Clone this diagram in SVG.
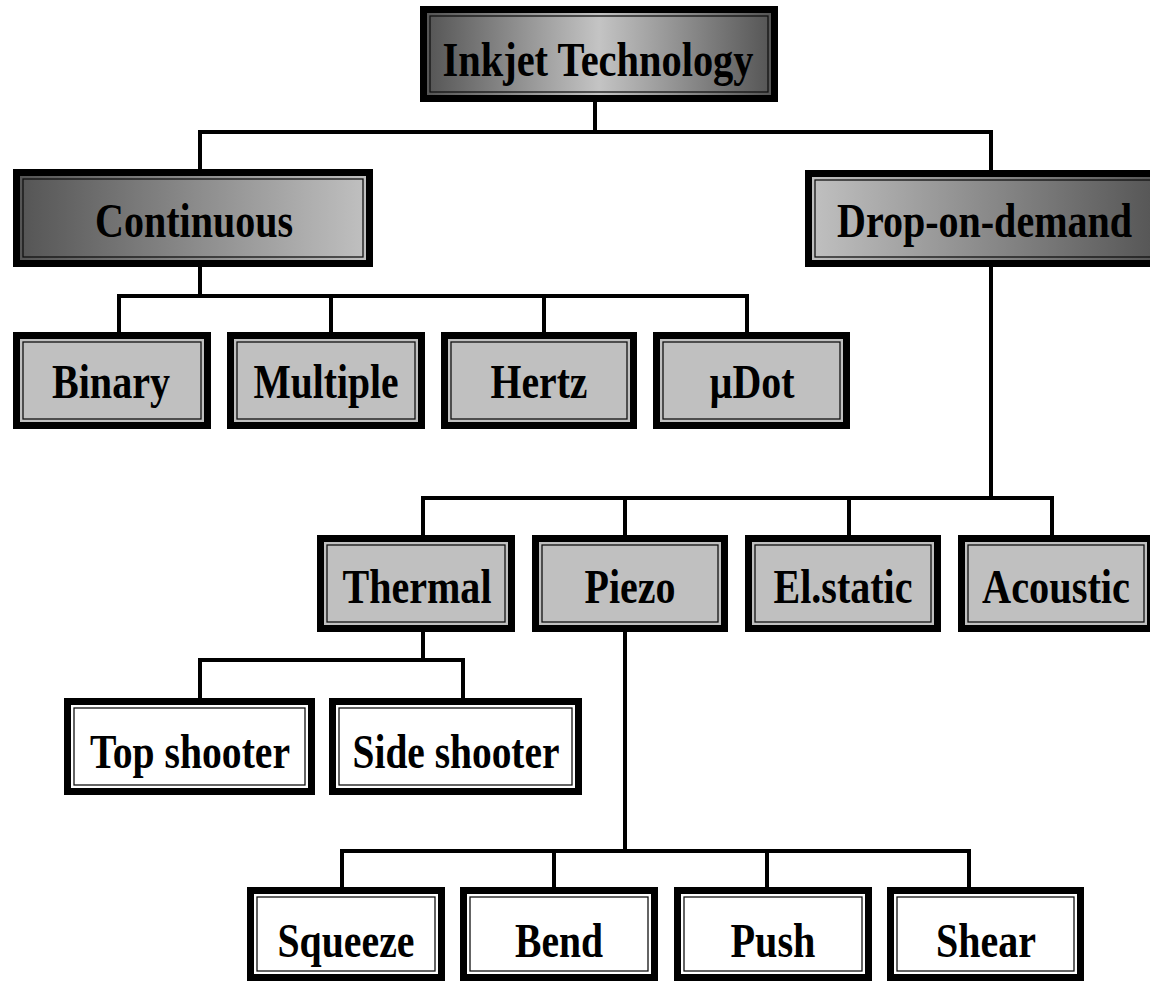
<svg xmlns="http://www.w3.org/2000/svg" width="1150" height="981" viewBox="0 0 1150 981">
<defs>
<linearGradient id="gMid" x1="0" y1="0" x2="1" y2="0">
<stop offset="0" stop-color="#555"/><stop offset="0.5" stop-color="#c4c4c4"/><stop offset="1" stop-color="#555"/>
</linearGradient>
<linearGradient id="gLR" x1="0" y1="0" x2="1" y2="0">
<stop offset="0" stop-color="#555"/><stop offset="1" stop-color="#c0c0c0"/>
</linearGradient>
<linearGradient id="gRL" x1="0" y1="0" x2="1" y2="0">
<stop offset="0" stop-color="#c0c0c0"/><stop offset="1" stop-color="#555"/>
</linearGradient>
<style>
.o{fill:#000}
.l{fill:none;stroke:#111;stroke-width:1.3}
.grey{fill:#c0c0c0}
.white{fill:#fff}
.t{font-family:"Liberation Serif","Times New Roman",serif;font-weight:bold;font-size:48px;fill:#000;text-anchor:middle}
.c{fill:none;stroke:#000;stroke-width:4;stroke-linecap:square;stroke-linejoin:miter}
</style>
</defs>
<rect width="1150" height="981" fill="#fff"/>
<g id="connectors">
<path class="c" d="M595 102V132M200 169V132H991V170"/>
<path class="c" d="M200 267V296M119 332V296H747V332M331 296V332M544 296V332"/>
<path class="c" d="M991 267V498M423 535V498H1052V535M625 498V535M849 498V535"/>
<path class="c" d="M423 632V660M200 698V660H463V698"/>
<path class="c" d="M625 632V851M342 887V851H969V887M554 851V887M767 851V887"/>
</g>
<g id="inkjet">
<rect class="o" x="420" y="6" width="358" height="96"/><rect fill="url(#gMid)" x="427" y="13" width="344" height="82"/><rect class="l" x="430" y="16" width="338" height="76"/>
<text class="t" x="598" y="76" textLength="311" lengthAdjust="spacingAndGlyphs">Inkjet Technology</text>
</g>
<g id="continuous">
<rect class="o" x="13" y="169" width="360" height="98"/><rect fill="url(#gLR)" x="20" y="176" width="346" height="84"/><rect class="l" x="23" y="179" width="340" height="78"/>
<text class="t" x="194" y="237" textLength="198" lengthAdjust="spacingAndGlyphs">Continuous</text>
</g>
<g id="dod">
<rect class="o" x="805" y="170" width="360" height="97"/><rect fill="url(#gRL)" x="812" y="177" width="346" height="83"/><rect class="l" x="815" y="180" width="340" height="77"/>
<text class="t" x="984.5" y="237" textLength="295" lengthAdjust="spacingAndGlyphs">Drop-on-demand</text>
</g>
<g id="binary">
<rect class="o" x="13" y="332" width="198" height="97"/><rect class="grey" x="20" y="339" width="184" height="83"/><rect class="l" x="23" y="342" width="178" height="77"/>
<text class="t" x="111" y="398" textLength="118" lengthAdjust="spacingAndGlyphs">Binary</text>
</g>
<g id="multiple">
<rect class="o" x="227" y="332" width="198" height="97"/><rect class="grey" x="234" y="339" width="184" height="83"/><rect class="l" x="237" y="342" width="178" height="77"/>
<text class="t" x="326" y="398" textLength="145" lengthAdjust="spacingAndGlyphs">Multiple</text>
</g>
<g id="hertz">
<rect class="o" x="441" y="332" width="196" height="97"/><rect class="grey" x="448" y="339" width="182" height="83"/><rect class="l" x="451" y="342" width="176" height="77"/>
<text class="t" x="539" y="398" textLength="97" lengthAdjust="spacingAndGlyphs">Hertz</text>
</g>
<g id="udot">
<rect class="o" x="653" y="332" width="197" height="97"/><rect class="grey" x="660" y="339" width="183" height="83"/><rect class="l" x="663" y="342" width="177" height="77"/>
<text class="t" x="752" y="398" textLength="85" lengthAdjust="spacingAndGlyphs">µDot</text>
</g>
<g id="thermal">
<rect class="o" x="317" y="535" width="198" height="97"/><rect class="grey" x="324" y="542" width="184" height="83"/><rect class="l" x="327" y="545" width="178" height="77"/>
<text class="t" x="417" y="603" textLength="149" lengthAdjust="spacingAndGlyphs">Thermal</text>
</g>
<g id="piezo">
<rect class="o" x="532" y="535" width="196" height="97"/><rect class="grey" x="539" y="542" width="182" height="83"/><rect class="l" x="542" y="545" width="176" height="77"/>
<text class="t" x="630" y="603" textLength="91" lengthAdjust="spacingAndGlyphs">Piezo</text>
</g>
<g id="elstatic">
<rect class="o" x="745" y="535" width="196" height="97"/><rect class="grey" x="752" y="542" width="182" height="83"/><rect class="l" x="755" y="545" width="176" height="77"/>
<text class="t" x="843" y="603" textLength="139" lengthAdjust="spacingAndGlyphs">El.static</text>
</g>
<g id="acoustic">
<rect class="o" x="958" y="535" width="196" height="97"/><rect class="grey" x="965" y="542" width="182" height="83"/><rect class="l" x="968" y="545" width="176" height="77"/>
<text class="t" x="1056" y="603" textLength="148" lengthAdjust="spacingAndGlyphs">Acoustic</text>
</g>
<g id="topshooter">
<rect class="o" x="64" y="698" width="251" height="97"/><rect class="white" x="71" y="705" width="237" height="83"/><rect class="l" x="74" y="708" width="231" height="77"/>
<text class="t" x="190" y="768" textLength="200" lengthAdjust="spacingAndGlyphs">Top shooter</text>
</g>
<g id="sideshooter">
<rect class="o" x="329" y="698" width="253" height="97"/><rect class="white" x="336" y="705" width="239" height="83"/><rect class="l" x="339" y="708" width="233" height="77"/>
<text class="t" x="456" y="768" textLength="207" lengthAdjust="spacingAndGlyphs">Side shooter</text>
</g>
<g id="squeeze">
<rect class="o" x="247" y="887" width="198" height="94"/><rect class="white" x="254" y="894" width="184" height="80"/><rect class="l" x="257" y="897" width="178" height="74"/>
<text class="t" x="346" y="957" textLength="137" lengthAdjust="spacingAndGlyphs">Squeeze</text>
</g>
<g id="bend">
<rect class="o" x="460" y="887" width="198" height="94"/><rect class="white" x="467" y="894" width="184" height="80"/><rect class="l" x="470" y="897" width="178" height="74"/>
<text class="t" x="559" y="957" textLength="88" lengthAdjust="spacingAndGlyphs">Bend</text>
</g>
<g id="push">
<rect class="o" x="674" y="887" width="198" height="94"/><rect class="white" x="681" y="894" width="184" height="80"/><rect class="l" x="684" y="897" width="178" height="74"/>
<text class="t" x="773" y="957" textLength="85" lengthAdjust="spacingAndGlyphs">Push</text>
</g>
<g id="shear">
<rect class="o" x="887" y="887" width="197" height="94"/><rect class="white" x="894" y="894" width="183" height="80"/><rect class="l" x="897" y="897" width="177" height="74"/>
<text class="t" x="986" y="957" textLength="100" lengthAdjust="spacingAndGlyphs">Shear</text>
</g>
</svg>
